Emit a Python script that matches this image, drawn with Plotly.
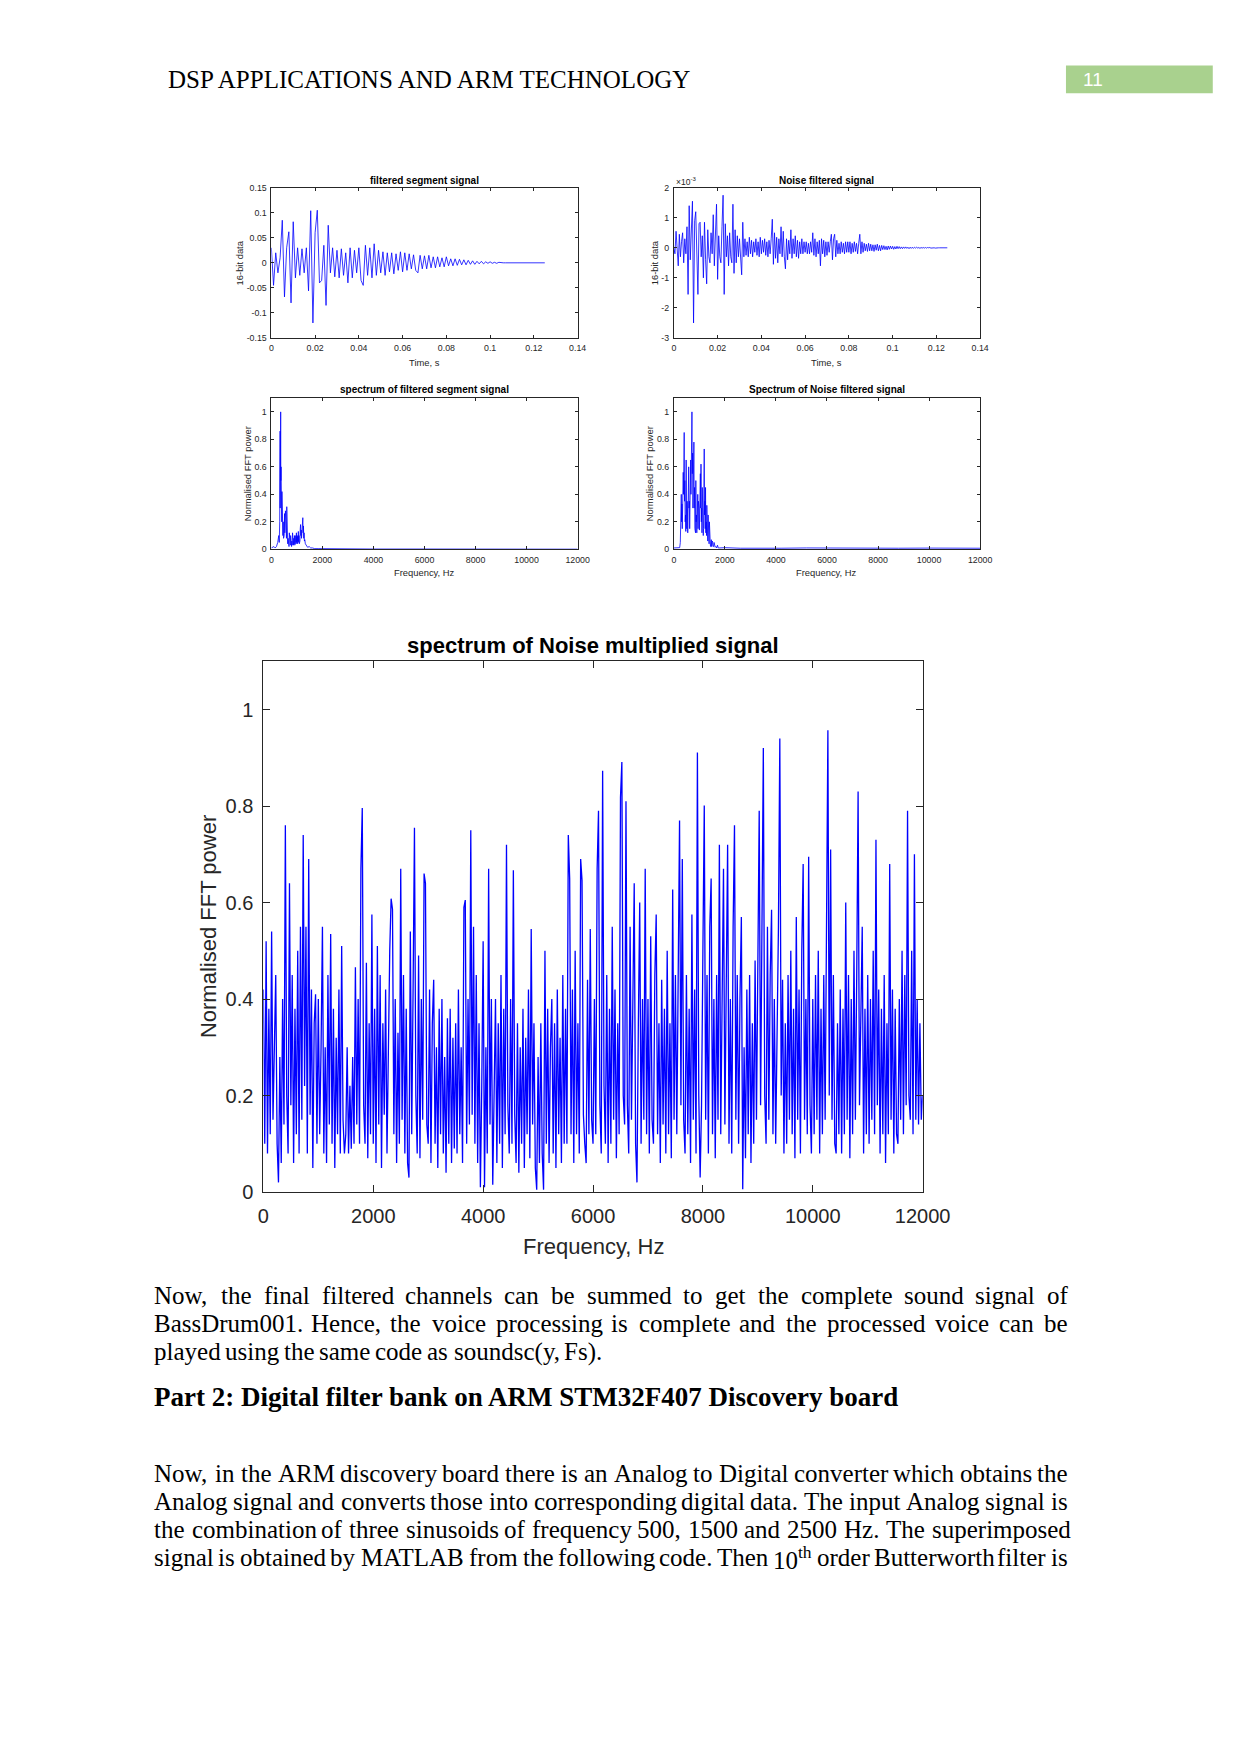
import plotly.graph_objects as go

# page size and the default 8px body margin of the html page
W, H = 1241, 1754
OFF = 8
FW, FH = W - 2 * OFF, H - 2 * OFF

# ------------------------------------------------------------------ data
# filtered segment signal (sample step 1 ms)
seg_dt = 0.001
seg_signal = [
    0.030, -0.045, 0.020, -0.020, 0.010, 0.085, -0.068, 0.030, 0.062, -0.080,
    0.082, -0.030, 0.030, -0.025, 0.028, -0.020, 0.030, -0.056, 0.104, -0.120,
    0.060, 0.105, -0.040, -0.035, 0.035, -0.085, 0.075, -0.020, 0.030, -0.028,
    0.025, -0.030, 0.028, -0.025, 0.020, -0.040, 0.030, -0.030, 0.025, -0.020,
    0.030, -0.035, -0.045, 0.035, -0.025, 0.030, -0.030, 0.038, -0.025, 0.025,
    -0.020, 0.022, -0.025, 0.020, -0.018, 0.020, -0.022, 0.018, -0.015, 0.022,
    -0.018, 0.020, -0.015, 0.018, -0.012, 0.016, -0.015, -0.020, 0.015, -0.012,
    0.014, -0.012, 0.015, -0.010, 0.012, -0.010, 0.012, -0.008, 0.010, -0.008,
    0.012, -0.006, 0.008, -0.006, 0.008, -0.005, 0.007, -0.004, 0.006, -0.004,
    0.005, -0.003, 0.004, -0.003, 0.003, -0.002, 0.003, -0.002, 0.002, -0.001,
    0.002, -0.001, 0.001, -0.001, 0.001, 0.0, 0.0, 0.0, 0.0, 0.0,
    0.0, 0.0, 0.0, 0.0, 0.0, 0.0, 0.0, 0.0, 0.0, 0.0,
    0.0, 0.0, 0.0, 0.0, 0.0, 0.0,
]

# noise filtered signal, in units of 1e-3 (sample step 0.5 ms)
noise_dt = 0.0005
noise_signal_e3 = [
    0, -0.2, 0.55, 0.1, -0.6, 0.45, -0.3, 0.2, 0.5, -0.5,
    0.3, -0.2, 0.7, -1.55, 1.4, -0.4, 0.5, 1.55, -2.5, 0.9,
    1.2, -0.6, -1.55, 0.8, 0.85, -0.3, 0.4, -1.0, 0.85, -0.4,
    -1.2, 0.6, -0.3, -0.5, 0.5, -0.2, 1.1, -0.6, 0.5, 1.45,
    -1.05, 0.4, -0.3, -0.5, 0.7, 1.75, -1.55, 0.8, -0.3, 0.4,
    -0.6, 0.5, -0.3, -0.5, 1.45, -0.85, 0.6, -0.5, 0.4, -0.3,
    0.3, -0.2, -0.9, 0.85, -0.3, 0.3, -0.25, 0.2, -0.3, 0.35,
    -0.2, 0.25, -0.3, 0.2, -0.15, 0.3, -0.25, 0.2, -0.3, 0.35,
    -0.2, 0.25, -0.15, 0.3, -0.25, 0.2, -0.3, 0.25, -0.2, 0.3,
    0.95, -0.55, 0.5, -0.35, 0.35, -0.5, 0.3, -0.2, 0.7, -0.3,
    0.55, -0.3, -0.7, 0.3, -0.4, 0.25, -0.2, 0.6, -0.35, 0.3,
    -0.2, 0.4, -0.3, 0.25, -0.35, 0.2, -0.2, 0.3, -0.2, 0.2,
    -0.15, 0.2, -0.2, 0.15, -0.2, 0.2, -0.15, 0.5, -0.25, 0.3,
    -0.3, 0.2, -0.2, 0.25, -0.6, 0.3, -0.2, 0.25, -0.3, 0.2,
    -0.25, 0.2, -0.15, 0.2, 0.45, -0.4, 0.3, 0.45, -0.3, 0.25,
    -0.2, 0.15, -0.2, 0.2, -0.15, 0.15, -0.2, 0.2, -0.15, 0.2,
    -0.15, 0.2, -0.2, 0.15, -0.15, 0.2, -0.12, 0.15, -0.2, 0.15,
    0.45, -0.2, 0.2, -0.15, 0.15, -0.1, 0.12, -0.12, 0.15, -0.1,
    0.12, -0.1, 0.1, -0.12, 0.1, -0.08, 0.12, -0.1, 0.08, -0.1,
    0.08, -0.06, 0.07, -0.06, 0.05, -0.07, 0.06, -0.05, 0.06, -0.04,
    0.05, -0.05, 0.04, -0.04, 0.05, -0.03, 0.04, -0.03, 0.03, -0.03,
    0.03, -0.02, 0.03, -0.02, 0.02, -0.03, 0.02, -0.02, 0.02, -0.02,
    0.02, -0.01, 0.02, -0.01, 0.01, -0.02, 0.01, -0.01, 0.01, -0.01,
    0.01, -0.01, 0.01, 0.0, 0.01, -0.01, 0.0, 0.01, 0.0, -0.01,
    0.0, 0.01, 0.0, 0.0, 0.0, 0.0, 0.0, 0.0, 0.0, 0.0, 0.0,
]

# spectrum of filtered segment signal: (frequency Hz, normalised power)
seg_spectrum = [
    (0, 0.01), (50, 0.015), (100, 0.02), (150, 0.01), (200, 0.02), (250, 0.05),
    (289, 0.1), (310, 0.05), (327, 0.2), (342, 0.86), (348, 0.3), (356, 0.6),
    (365, 1.0), (372, 0.5), (380, 0.6), (390, 0.25), (400, 0.45), (408, 0.2),
    (415, 0.42), (428, 0.15), (440, 0.3), (452, 0.1), (465, 0.2), (478, 0.08),
    (490, 0.18), (503, 0.1), (516, 0.26), (528, 0.12), (540, 0.22), (553, 0.28),
    (566, 0.12), (579, 0.2), (592, 0.08), (604, 0.31), (616, 0.1), (629, 0.12),
    (642, 0.04), (655, 0.08), (667, 0.03), (680, 0.07), (692, 0.02), (704, 0.12),
    (717, 0.04), (730, 0.08), (742, 0.03), (755, 0.1), (767, 0.05), (780, 0.1),
    (792, 0.02), (805, 0.06), (817, 0.03), (830, 0.12), (843, 0.05), (855, 0.09),
    (868, 0.03), (880, 0.08), (893, 0.04), (906, 0.1), (918, 0.03), (930, 0.08),
    (943, 0.05), (956, 0.1), (968, 0.04), (981, 0.12), (994, 0.05), (1006, 0.09),
    (1019, 0.04), (1032, 0.1), (1044, 0.06), (1057, 0.13), (1070, 0.05), (1082, 0.1),
    (1095, 0.04), (1107, 0.08), (1120, 0.06), (1133, 0.15), (1145, 0.18), (1158, 0.1),
    (1170, 0.14), (1182, 0.08), (1195, 0.15), (1208, 0.12), (1220, 0.2), (1233, 0.23),
    (1245, 0.12), (1258, 0.17), (1270, 0.08), (1283, 0.12), (1296, 0.06), (1310, 0.07),
    (1333, 0.04), (1360, 0.03), (1384, 0.025), (1420, 0.015), (1484, 0.02), (1540, 0.01),
    (1610, 0.01), (1700, 0.005), (1862, 0.005), (2500, 0.003), (4000, 0.002),
    (6000, 0.002), (9000, 0.001), (12000, 0.001),
]

# spectrum of noise filtered signal: (frequency Hz, normalised power)
noise_spectrum = [
    (0, 0.01), (127, 0.01), (228, 0.012), (253, 0.05), (272, 0.25), (291, 0.4),
    (303, 0.2), (316, 0.33), (329, 0.15), (342, 0.45), (355, 0.3), (367, 0.56),
    (380, 0.4), (392, 0.6), (405, 0.85), (418, 0.35), (430, 0.5), (443, 0.2),
    (456, 0.25), (468, 0.13), (481, 0.65), (494, 0.3), (506, 0.15), (519, 0.35),
    (532, 0.3), (544, 0.12), (557, 0.45), (570, 0.25), (582, 0.6), (595, 0.3),
    (608, 0.35), (620, 0.15), (633, 0.5), (645, 0.3), (658, 0.65), (671, 0.4),
    (684, 0.78), (696, 0.5), (709, 1.0), (722, 0.55), (734, 0.7), (747, 0.3),
    (759, 0.45), (772, 0.35), (785, 0.78), (797, 0.3), (810, 0.45), (823, 0.15),
    (835, 0.3), (848, 0.12), (861, 0.5), (873, 0.2), (886, 0.25), (899, 0.12),
    (911, 0.2), (924, 0.3), (937, 0.4), (949, 0.15), (962, 0.35), (975, 0.2),
    (987, 0.3), (1000, 0.14), (1013, 0.4), (1025, 0.25), (1038, 0.55), (1051, 0.3),
    (1063, 0.62), (1076, 0.2), (1089, 0.3), (1101, 0.12), (1114, 0.45), (1127, 0.2),
    (1139, 0.25), (1152, 0.1), (1165, 0.15), (1177, 0.35), (1190, 0.73), (1203, 0.25),
    (1215, 0.35), (1228, 0.15), (1241, 0.45), (1253, 0.12), (1266, 0.2), (1279, 0.1),
    (1291, 0.32), (1304, 0.12), (1316, 0.15), (1329, 0.06), (1342, 0.25), (1355, 0.07),
    (1367, 0.08), (1380, 0.04), (1392, 0.2), (1405, 0.05), (1418, 0.05), (1430, 0.03),
    (1443, 0.02), (1456, 0.05), (1468, 0.07), (1481, 0.02), (1494, 0.03), (1507, 0.06),
    (1519, 0.05), (1538, 0.02), (1557, 0.02), (1576, 0.05), (1595, 0.04), (1620, 0.015),
    (1646, 0.02), (1680, 0.01), (1709, 0.03), (1740, 0.01), (1772, 0.01), (2000, 0.012),
    (2600, 0.008), (3300, 0.01), (4200, 0.008), (5200, 0.01), (6400, 0.008),
    (7600, 0.009), (8800, 0.008), (10000, 0.009), (11000, 0.008), (12000, 0.008),
]

# spectrum of noise multiplied signal (25 Hz bins, 0..12000 Hz)
mult_df = 25
mult_spec_p = [
    # 0 - 475
    0.42, 0.10, 0.52, 0.08, 0.38, 0.12, 0.54, 0.15, 0.30, 0.45, 0.10, 0.02, 0.28, 0.06, 0.40, 0.14, 0.76, 0.20, 0.08, 0.64,
    # 500 - 975
    0.18, 0.45, 0.06, 0.38, 0.12, 0.50, 0.08, 0.55, 0.15, 0.74, 0.22, 0.55, 0.08, 0.69, 0.16, 0.42, 0.05, 0.35, 0.41, 0.10,
    # 1000 - 1475
    0.40, 0.12, 0.30, 0.55, 0.08, 0.30, 0.06, 0.45, 0.14, 0.535, 0.10, 0.38, 0.05, 0.32, 0.12, 0.42, 0.08, 0.51, 0.15, 0.08,
    # 1500 - 1975
    0.12, 0.30, 0.08, 0.22, 0.09, 0.28, 0.10, 0.466, 0.14, 0.40, 0.10, 0.67, 0.796, 0.18, 0.10, 0.475, 0.07, 0.35, 0.12, 0.575,
    # 2000 - 2475
    0.10, 0.38, 0.06, 0.51, 0.14, 0.45, 0.05, 0.35, 0.16, 0.42, 0.08, 0.30, 0.50, 0.608, 0.586, 0.12, 0.40, 0.06, 0.33, 0.10,
    # 2500 - 2975
    0.67, 0.15, 0.45, 0.08, 0.38, 0.06, 0.03, 0.54, 0.12, 0.42, 0.755, 0.20, 0.08, 0.49, 0.07, 0.40, 0.15, 0.66, 0.64, 0.14,
    # 3000 - 3475
    0.10, 0.42, 0.06, 0.35, 0.44, 0.10, 0.30, 0.05, 0.38, 0.12, 0.40, 0.08, 0.28, 0.04, 0.36, 0.10, 0.38, 0.06, 0.32, 0.09,
    # 3500 - 3975
    0.35, 0.08, 0.42, 0.12, 0.30, 0.06, 0.59, 0.605, 0.10, 0.40, 0.14, 0.75, 0.16, 0.55, 0.10, 0.45, 0.06, 0.35, 0.01, 0.22,
    # 4000 - 4475
    0.52, 0.01, 0.30, 0.08, 0.67, 0.14, 0.40, 0.015, 0.28, 0.40, 0.06, 0.35, 0.10, 0.45, 0.05, 0.38, 0.12, 0.72, 0.18, 0.08,
    # 4500 - 4975
    0.40, 0.10, 0.667, 0.16, 0.06, 0.35, 0.04, 0.30, 0.10, 0.38, 0.05, 0.32, 0.12, 0.42, 0.07, 0.545, 0.14, 0.35, 0.05, 0.005,
    # 5000 - 5475
    0.28, 0.06, 0.35, 0.08, 0.005, 0.50, 0.10, 0.38, 0.06, 0.30, 0.40, 0.08, 0.35, 0.05, 0.42, 0.12, 0.32, 0.06, 0.45, 0.10,
    # 5500 - 5975
    0.38, 0.10, 0.74, 0.65, 0.12, 0.42, 0.06, 0.50, 0.12, 0.35, 0.08, 0.69, 0.646, 0.16, 0.10, 0.06, 0.44, 0.12, 0.545, 0.15,
    # 6000 - 6475
    0.10, 0.40, 0.12, 0.67, 0.79, 0.18, 0.08, 0.873, 0.22, 0.10, 0.45, 0.06, 0.38, 0.10, 0.55, 0.15, 0.42, 0.07, 0.35, 0.12,
    # 6500 - 6975
    0.818, 0.891, 0.20, 0.14, 0.81, 0.18, 0.08, 0.55, 0.15, 0.45, 0.64, 0.10, 0.02, 0.35, 0.60, 0.10, 0.40, 0.15, 0.67, 0.12,
    # 7000 - 7475
    0.40, 0.08, 0.53, 0.15, 0.10, 0.45, 0.575, 0.12, 0.35, 0.06, 0.44, 0.14, 0.38, 0.08, 0.50, 0.12, 0.35, 0.07, 0.627, 0.15,
    # 7500 - 7975
    0.45, 0.12, 0.40, 0.77, 0.18, 0.69, 0.15, 0.08, 0.45, 0.12, 0.38, 0.06, 0.575, 0.15, 0.42, 0.08, 0.911, 0.20, 0.03, 0.18,
    # 8000 - 8475
    0.50, 0.801, 0.15, 0.45, 0.08, 0.55, 0.65, 0.12, 0.40, 0.07, 0.45, 0.15, 0.72, 0.12, 0.40, 0.67, 0.14, 0.50, 0.72, 0.10,
    # 8500 - 8975
    0.40, 0.08, 0.55, 0.76, 0.15, 0.45, 0.10, 0.40, 0.57, 0.006, 0.30, 0.07, 0.42, 0.12, 0.45, 0.06, 0.35, 0.10, 0.48, 0.15,
    # 9000 - 9475
    0.45, 0.79, 0.18, 0.50, 0.92, 0.20, 0.10, 0.55, 0.15, 0.45, 0.585, 0.12, 0.40, 0.10, 0.35, 0.55, 0.94, 0.20, 0.44, 0.08,
    # 9500 - 9975
    0.35, 0.10, 0.45, 0.15, 0.50, 0.12, 0.38, 0.07, 0.57, 0.15, 0.42, 0.08, 0.50, 0.68, 0.15, 0.40, 0.12, 0.695, 0.18, 0.08,
    # 10000 - 10475
    0.40, 0.12, 0.45, 0.15, 0.50, 0.08, 0.38, 0.12, 0.45, 0.15, 0.55, 0.957, 0.20, 0.71, 0.15, 0.45, 0.10, 0.08, 0.35, 0.12,
    # 10500 - 10975
    0.42, 0.08, 0.38, 0.12, 0.60, 0.15, 0.45, 0.07, 0.40, 0.12, 0.50, 0.15, 0.45, 0.83, 0.18, 0.40, 0.55, 0.08, 0.38, 0.12,
    # 11000 - 11475
    0.45, 0.10, 0.40, 0.15, 0.50, 0.12, 0.73, 0.18, 0.42, 0.08, 0.38, 0.12, 0.45, 0.06, 0.35, 0.12, 0.68, 0.15, 0.42, 0.08,
    # 11500 - 12000
    0.38, 0.12, 0.10, 0.40, 0.15, 0.50, 0.12, 0.45, 0.18, 0.79, 0.20, 0.15, 0.50, 0.12, 0.70, 0.15, 0.40, 0.14, 0.35, 0.15, 0.20,
]

# tick definitions
time_ticks = [0, 0.02, 0.04, 0.06, 0.08, 0.1, 0.12, 0.14]
time_ticklabels = ["0", "0.02", "0.04", "0.06", "0.08", "0.1", "0.12", "0.14"]
seg_yticks = [-0.15, -0.1, -0.05, 0, 0.05, 0.1, 0.15]
seg_yticklabels = ["-0.15", "-0.1", "-0.05", "0", "0.05", "0.1", "0.15"]
noise_yticks = [-3, -2, -1, 0, 1, 2]
noise_yticklabels = ["-3", "-2", "-1", "0", "1", "2"]
freq_ticks = [0, 2000, 4000, 6000, 8000, 10000, 12000]
freq_ticklabels = ["0", "2000", "4000", "6000", "8000", "10000", "12000"]
pow_ticks = [0, 0.2, 0.4, 0.6, 0.8, 1]
pow_ticklabels = ["0", "0.2", "0.4", "0.6", "0.8", "1"]

header_text = "DSP APPLICATIONS AND ARM TECHNOLOGY"
page_number = "11"
para1 = [
    ("Now, the final filtered channels can be summed to get the complete sound signal of", True),
    ("BassDrum001. Hence, the voice processing is complete and the processed voice can be", True),
    ("played using the same code as soundsc(y, Fs).", False),
]
heading = "Part 2: Digital filter bank on ARM STM32F407 Discovery board"
para2 = [
    ("Now, in the ARM discovery board there is an Analog to Digital converter which obtains the", True),
    ("Analog signal and converts those into corresponding digital data. The input Analog signal is", True),
    ("the combination of three sinusoids of frequency 500, 1500 and 2500 Hz. The superimposed", True),
    ("signal is obtained by MATLAB from the following code. Then 10<sup>th</sup> order Butterworth filter is", True),
]

# ------------------------------------------------------------------ helpers
def X(px):
    return (px - OFF) / FW


def Y(py):
    return 1 - (py - OFF) / FH


SANS = "Liberation Sans, Arial, sans-serif"
SERIF = "Liberation Serif, Times New Roman, serif"
AXC = "#262626"
BLUE = "#0000ff"

fig = go.Figure()

seg_t = [i * seg_dt for i in range(len(seg_signal))]
noise_t = [i * noise_dt for i in range(len(noise_signal_e3))]
mult_f = [i * mult_df for i in range(len(mult_spec_p))]
seg_spec_f = [f for f, _ in seg_spectrum]
seg_spec_p = [p for _, p in seg_spectrum]
noise_spec_f = [f for f, _ in noise_spectrum]
noise_spec_p = [p for _, p in noise_spectrum]

fig.add_trace(go.Scatter(x=seg_t, y=seg_signal, mode="lines",
                         line=dict(color=BLUE, width=0.8), xaxis="x", yaxis="y"))
fig.add_trace(go.Scatter(x=noise_t, y=noise_signal_e3, mode="lines",
                         line=dict(color=BLUE, width=0.8), xaxis="x2", yaxis="y2"))
fig.add_trace(go.Scatter(x=seg_spec_f, y=seg_spec_p, mode="lines",
                         line=dict(color=BLUE, width=0.8), xaxis="x3", yaxis="y3"))
fig.add_trace(go.Scatter(x=noise_spec_f, y=noise_spec_p, mode="lines",
                         line=dict(color=BLUE, width=0.8), xaxis="x4", yaxis="y4"))
fig.add_trace(go.Scatter(x=mult_f, y=mult_spec_p, mode="lines",
                         line=dict(color=BLUE, width=1.3), xaxis="x5", yaxis="y5"))


def axis(domain, rng, tv, tt, fs, tlen, lw, standoff, anchor):
    return dict(domain=domain, range=rng, tickvals=tv, ticktext=tt,
                showline=True, linecolor=AXC, linewidth=lw, mirror="ticks",
                ticks="inside", ticklen=tlen, tickwidth=lw, tickcolor=AXC,
                showgrid=False, zeroline=False, fixedrange=True,
                tickfont=dict(family=SANS, size=fs, color=AXC),
                anchor=anchor, ticklabelstandoff=standoff)


# pixel geometry of axes boxes (page coordinates)
L1, R1 = 272.7, 587.7
L2, R2 = 686.7, 1001.7
T_top, B_top = 184.3, 336.0
T_bot, B_bot = 396.7, 549.3
BL_, BR_, BT_, BB_ = 264.5, 942.6, 662.3, 1198.0

sfs = 8.8
layout = dict(
    width=FW, height=FH, margin=dict(l=0, r=0, t=0, b=0),
    paper_bgcolor="white", plot_bgcolor="white", showlegend=False,
    xaxis=axis([X(L1), X(R1)], [0, 0.14], time_ticks, time_ticklabels, sfs, 3, 0.8, 2, "y"),
    yaxis=axis([Y(B_top), Y(T_top)], [-0.15, 0.15], seg_yticks, seg_yticklabels, sfs, 3, 0.8, 2, "x"),
    xaxis2=axis([X(L2), X(R2)], [0, 0.14], time_ticks, time_ticklabels, sfs, 3, 0.8, 2, "y2"),
    yaxis2=axis([Y(B_top), Y(T_top)], [-3, 2], noise_yticks, noise_yticklabels, sfs, 3, 0.8, 2, "x2"),
    xaxis3=axis([X(L1), X(R1)], [0, 12000], freq_ticks, freq_ticklabels, sfs, 3, 0.8, 2, "y3"),
    yaxis3=axis([Y(B_bot), Y(T_bot)], [0, 1.1], pow_ticks, pow_ticklabels, sfs, 3, 0.8, 2, "x3"),
    xaxis4=axis([X(L2), X(R2)], [0, 12000], freq_ticks, freq_ticklabels, sfs, 3, 0.8, 2, "y4"),
    yaxis4=axis([Y(B_bot), Y(T_bot)], [0, 1.1], pow_ticks, pow_ticklabels, sfs, 3, 0.8, 2, "x4"),
    xaxis5=axis([X(BL_), X(BR_)], [0, 12000], freq_ticks, freq_ticklabels, 20, 7, 1.1, 6, "y5"),
    yaxis5=axis([Y(BB_), Y(BT_)], [0, 1.1], pow_ticks, pow_ticklabels, 20, 7, 1.1, 5, "x5"),
)
fig.update_layout(**layout)

ann = []


def text(px, py, s, size, family=SANS, color="black", bold=False, xanchor="center",
         angle=0):
    if bold:
        s = "<b>" + s + "</b>"
    ann.append(dict(x=X(px), y=Y(py), xref="paper", yref="paper", text=s,
                    showarrow=False, xanchor=xanchor, yanchor="middle",
                    font=dict(family=family, size=size, color=color),
                    textangle=angle, borderpad=0))


# small chart titles / labels
tfs, lfs = 10, 9.4
text((L1 + R1) / 2, 176.7, "filtered segment signal", tfs, bold=True)
text((L2 + R2) / 2, 176.7, "Noise filtered signal", tfs, bold=True)
text((L1 + R1) / 2, 388.3, "spectrum of filtered segment signal", tfs, bold=True)
text((L2 + R2) / 2, 388.3, "Spectrum of Noise filtered signal", tfs, bold=True)
text((L1 + R1) / 2, 360.5, "Time, s", lfs, color=AXC)
text((L2 + R2) / 2, 360.5, "Time, s", lfs, color=AXC)
text((L1 + R1) / 2, 572.4, "Frequency, Hz", lfs, color=AXC)
text((L2 + R2) / 2, 572.4, "Frequency, Hz", lfs, color=AXC)
text(240.0, (T_top + B_top) / 2, "16-bit data", lfs, color=AXC, angle=-90)
text(666.7, (T_top + B_top) / 2, "16-bit data", lfs, color=AXC, angle=-90)
text(248.3, (T_bot + B_bot) / 2, "Normalised FFT power", lfs, color=AXC, angle=-90)
text(661.7, (T_bot + B_bot) / 2, "Normalised FFT power", lfs, color=AXC, angle=-90)
text(687.5, 178.3, "\u00d710<sup>-3</sup>", 8.5, color=AXC, xanchor="left")

# big chart labels
text((BL_ + BR_) / 2, 646.7, "spectrum of Noise multiplied signal", 22, bold=True)
text((BL_ + BR_) / 2, 1253.0, "Frequency, Hz", 22, color=AXC)
text(208.0, (BT_ + BB_) / 2, "Normalised FFT power", 22, color=AXC, angle=-90)

# page header
text(165.0, 75.0, header_text, 25, family=SERIF, xanchor="left")
fig.add_shape(type="rect", xref="paper", yref="paper", x0=X(1090), x1=X(1241),
              y0=Y(89), y1=Y(61), fillcolor="#a9d18e", line=dict(width=0), layer="below")
text(1107.0, 75.5, page_number, 19, family="Liberation Sans, Arial", color="white",
     xanchor="left")

# ---- justified body text
TW = {' ': 250, '!': 333, '"': 408, '#': 500, '$': 500, '%': 833, '&': 778, "'": 180,
      '(': 333, ')': 333, '*': 500, '+': 564, ',': 250, '-': 333, '.': 250, '/': 278,
      ':': 278, ';': 278, '?': 444, '@': 921,
      'A': 722, 'B': 667, 'C': 667, 'D': 722, 'E': 611, 'F': 556, 'G': 722, 'H': 722,
      'I': 333, 'J': 389, 'K': 722, 'L': 611, 'M': 889, 'N': 722, 'O': 722, 'P': 556,
      'Q': 722, 'R': 667, 'S': 556, 'T': 611, 'U': 722, 'V': 722, 'W': 944, 'X': 722,
      'Y': 722, 'Z': 611,
      'a': 444, 'b': 500, 'c': 444, 'd': 500, 'e': 444, 'f': 333, 'g': 500, 'h': 500,
      'i': 278, 'j': 278, 'k': 500, 'l': 278, 'm': 778, 'n': 500, 'o': 500, 'p': 500,
      'q': 500, 'r': 333, 's': 389, 't': 278, 'u': 500, 'v': 500, 'w': 722, 'x': 500,
      'y': 500, 'z': 444}
for d in "0123456789":
    TW[d] = 500


def word_width(w, size):
    total = 0.0
    scale = 1.0
    i = 0
    while i < len(w):
        if w.startswith("<sup>", i):
            scale = 0.7
            i += 5
            continue
        if w.startswith("</sup>", i):
            scale = 1.0
            i += 6
            continue
        total += TW.get(w[i], 500) * scale
        i += 1
    return total / 1000.0 * size


LEFT, RIGHT = 151.0, 1090.0
BODY = 25


def body_line(line, py, justify):
    words = line.split(" ")
    widths = [word_width(w, BODY) for w in words]
    if justify and len(words) > 1:
        gap = (RIGHT - LEFT - sum(widths)) / (len(words) - 1)
    else:
        gap = TW[' '] / 1000.0 * BODY
    x = LEFT
    for w, wd in zip(words, widths):
        text(x, py, w, BODY, family=SERIF, xanchor="left")
        x += wd + gap


for k, (line, just) in enumerate(para1):
    body_line(line, 1302.5 + k * 28.3, just)

text(LEFT, 1405.0, heading, 27, family=SERIF, bold=True, xanchor="left")

for k, (line, just) in enumerate(para2):
    body_line(line, 1482.0 + k * 28.3, just)

fig.update_layout(annotations=ann)
fig.write_html("out.html")
